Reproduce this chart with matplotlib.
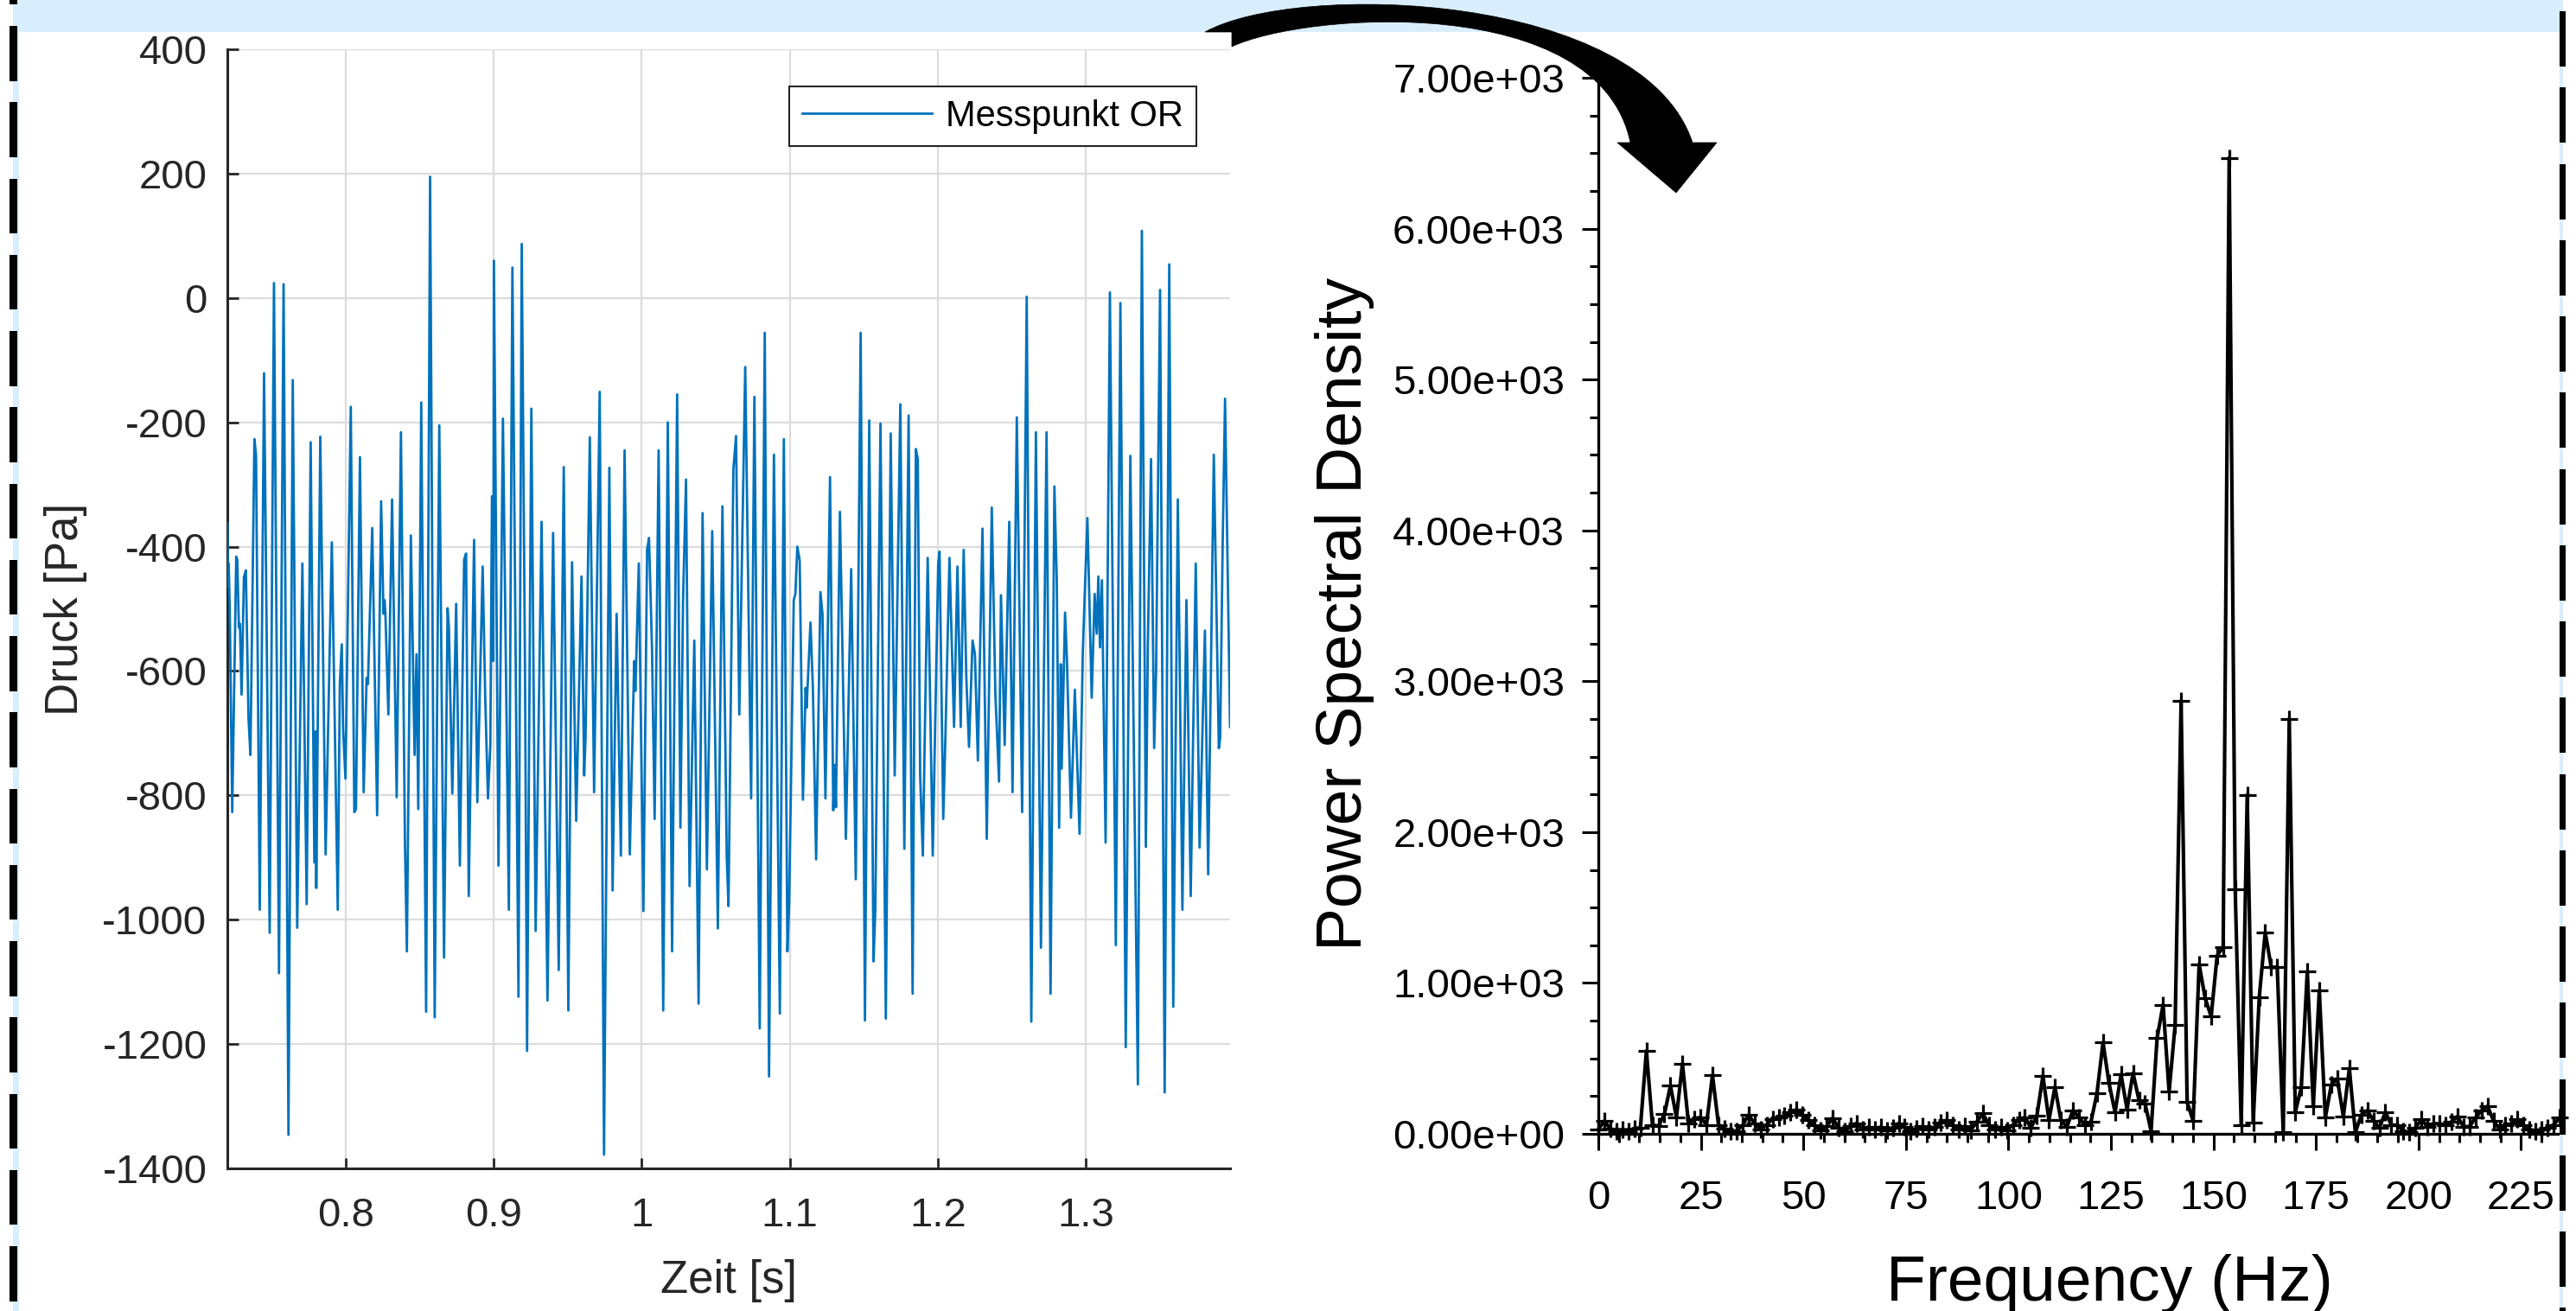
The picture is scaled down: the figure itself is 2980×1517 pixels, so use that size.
import numpy as np
import matplotlib
matplotlib.use('Agg')
import matplotlib.pyplot as plt
from matplotlib.patches import Rectangle, PathPatch
from matplotlib.path import Path
from matplotlib.ticker import MultipleLocator, FuncFormatter

plt.rcParams['font.family'] = ['Liberation Sans', 'DejaVu Sans']
plt.rcParams['axes.unicode_minus'] = False

W, H = 2980, 1517
DPI = 100

# Druckverlauf Messpunkt OR  (Zeit [s], Druck [Pa])
zeit = [0.7200, 0.7204, 0.7209, 0.7216, 0.7233, 0.7260, 0.7267, 0.7278, 0.7285, 0.7296,
        0.7312, 0.7325, 0.7343, 0.7356, 0.7383, 0.7394, 0.7419, 0.7448, 0.7486, 0.7515,
        0.7549, 0.7580, 0.7613, 0.7642, 0.7672, 0.7707, 0.7736, 0.7763, 0.7788, 0.7797,
        0.7801, 0.7828, 0.7864, 0.7906, 0.7946, 0.7960, 0.7973, 0.7982, 0.7998, 0.8034,
        0.8058, 0.8069, 0.8096, 0.8121, 0.8141, 0.8150, 0.8179, 0.8212, 0.8239, 0.8255,
        0.8262, 0.8268, 0.8288, 0.8313, 0.8344, 0.8373, 0.8400, 0.8413, 0.8440, 0.8465,
        0.8478, 0.8490, 0.8510, 0.8543, 0.8570, 0.8601, 0.8632, 0.8664, 0.8688, 0.8697,
        0.8720, 0.8746, 0.8771, 0.8800, 0.8813, 0.8831, 0.8867, 0.8889, 0.8925, 0.8943,
        0.8961, 0.8977, 0.8988, 0.8997, 0.9001, 0.9032, 0.9062, 0.9102, 0.9126, 0.9151,
        0.9167, 0.9189, 0.9211, 0.9225, 0.9254, 0.9283, 0.9323, 0.9363, 0.9401, 0.9439,
        0.9473, 0.9504, 0.9529, 0.9557, 0.9593, 0.9611, 0.9620, 0.9649, 0.9678, 0.9716,
        0.9745, 0.9781, 0.9803, 0.9830, 0.9859, 0.9884, 0.9919, 0.9949, 0.9957, 0.9980,
        1.0011, 1.0036, 1.0049, 1.0069, 1.0087, 1.0114, 1.0145, 1.0176, 1.0205, 1.0239,
        1.0261, 1.0279, 1.0299, 1.0323, 1.0355, 1.0384, 1.0411, 1.0440, 1.0476, 1.0514,
        1.0545, 1.0574, 1.0586, 1.0619, 1.0637, 1.0659, 1.0699, 1.0739, 1.0761, 1.0797,
        1.0831, 1.0860, 1.0893, 1.0933, 1.0960, 1.0984, 1.0996, 1.1027, 1.1038, 1.1051,
        1.1067, 1.1089, 1.1107, 1.1114, 1.1120, 1.1140, 1.1156, 1.1178, 1.1207, 1.1221,
        1.1241, 1.1272, 1.1294, 1.1303, 1.1312, 1.1339, 1.1379, 1.1415, 1.1446, 1.1479,
        1.1508, 1.1537, 1.1566, 1.1578, 1.1613, 1.1649, 1.1682, 1.1709, 1.1747, 1.1774,
        1.1803, 1.1830, 1.1852, 1.1865, 1.1881, 1.1899, 1.1932, 1.1966, 1.2003, 1.2012,
        1.2037, 1.2052, 1.2079, 1.2110, 1.2133, 1.2155, 1.2175, 1.2193, 1.2211, 1.2235,
        1.2251, 1.2271, 1.2302, 1.2331, 1.2365, 1.2389, 1.2414, 1.2427, 1.2452, 1.2483,
        1.2505, 1.2534, 1.2570, 1.2601, 1.2632, 1.2663, 1.2697, 1.2735, 1.2762, 1.2788,
        1.2804, 1.2820, 1.2831, 1.2837, 1.2860, 1.2873, 1.2900, 1.2926, 1.2958, 1.2980,
        1.2993, 1.3011, 1.3040, 1.3060, 1.3074, 1.3085, 1.3096, 1.3109, 1.3134, 1.3163,
        1.3203, 1.3234, 1.3270, 1.3301, 1.3352, 1.3379, 1.3406, 1.3419, 1.3441, 1.3462,
        1.3475, 1.3502, 1.3533, 1.3564, 1.3591, 1.3622, 1.3653, 1.3680, 1.3709, 1.3743,
        1.3769, 1.3805, 1.3827, 1.3865, 1.3899, 1.3908, 1.3925, 1.3941, 1.3975]
druck = [-362, -465, -427, -497, -827, -416, -421, -530, -524, -638,
         -449, -438, -676, -735, -227, -254, -984, -121, -1021, 24,
         -1086, 22, -1346, -132, -1013, -427, -975, -232, -908, -697,
         -949, -223, -895, -393, -984, -621, -557, -692, -773, -175,
         -827, -822, -256, -795, -611, -621, -370, -832, -327, -508,
         -486, -508, -670, -324, -803, -216, -876, -1051, -382, -735,
         -573, -822, -168, -1148, 195, -1157, -205, -1061, -499, -530,
         -797, -492, -913, -421, -411, -962, -389, -811, -432, -649,
         -805, -719, -319, -584, 60, -913, -194, -984, 49, -670,
         -1124, 87, -594, -1211, -178, -1018, -360, -1130, -378, -1081,
         -272, -1146, -425, -841, -448, -768, -708, -224, -795, -151,
         -1378, -273, -953, -508, -897, -245, -895, -584, -632, -427,
         -986, -405, -386, -562, -838, -245, -1146, -200, -1051, -155,
         -852, -486, -292, -946, -551, -1135, -346, -919, -375, -1014,
         -335, -897, -978, -276, -222, -670, -111, -805, -159, -1175,
         -56, -1252, -252, -1151, -227, -1051, -973, -486, -476, -400,
         -422, -807, -627, -659, -627, -522, -625, -903, -473, -508,
         -805, -288, -824, -751, -819, -344, -870, -436, -935, -56,
         -1162, -197, -1067, -984, -202, -1159, -218, -768, -171, -886,
         -189, -1119, -243, -259, -768, -897, -418, -897, -427, -408,
         -838, -703, -418, -690, -432, -690, -405, -611, -722, -551,
         -573, -744, -371, -870, -337, -636, -778, -478, -719, -360,
         -795, -192, -827, 2, -1164, -216, -1045, -216, -1119, -303,
         -454, -852, -589, -757, -506, -584, -836, -630, -862, -569,
         -476, -354, -643, -476, -540, -448, -562, -454, -876, 9,
         -1041, -8, -1205, -254, -1265, 108, -883, -562, -259, -724,
         -600, 13, -1278, 54, -1140, -324, -984, -486, -962, -427,
         -884, -535, -927, -252, -724, -708, -394, -162, -690]

# Power Spectral Density, one value per frequency bin (df = 1.465 Hz, from 0 Hz)
df = 1.465
psd = [30, 85, 35, 15, 30, 20, 35, 40, 550, 60,
       50, 130, 320, 110, 465, 70, 100, 110, 60, 390,
       60, 35, 15, 20, 55, 125, 70, 30, 60, 100,
       110, 120, 145, 160, 125, 90, 55, 25, 50, 105,
       40, 20, 50, 70, 30, 45, 30, 45, 25, 40,
       70, 45, 20, 35, 50, 30, 45, 75, 90, 60,
       30, 50, 25, 80, 135, 60, 30, 45, 25, 60,
       90, 110, 40, 120, 385, 90, 310, 90, 48, 154,
       110, 56, 80, 269, 605, 336, 143, 393, 163, 403,
       221, 202, 19, 634, 855, 278, 720, 2870, 212, 86,
       1124, 900, 778, 1182, 1239, 6470, 1623, 58, 2248, 77,
       903, 1335, 1104, 1104, 10, 2750, 144, 307, 1076, 183,
       951, 106, 326, 365, 115, 433, 10, 126, 155, 87,
       39, 144, 58, 58, 19, 10, 40, 96, 48, 67,
       67, 58, 80, 115, 48, 48, 106, 155, 183, 87,
       29, 58, 67, 96, 58, 29, 19, 29, 39, 60,
       106]
freq = np.arange(len(psd)) * df

zeit_ticks = [0.8, 0.9, 1.0, 1.1, 1.2, 1.3]
zeit_labels = ['0.8', '0.9', '1', '1.1', '1.2', '1.3']

BAND = '#d9eefc'
MBLUE = '#0072BD'
DARK = '#262626'


def px_box(x0, y0, x1, y1):
    # pixel box (y from top) -> figure fraction
    return [x0 / W, 1 - y1 / H, (x1 - x0) / W, (y1 - y0) / H]


fig = plt.figure(figsize=(W / DPI, H / DPI), dpi=DPI)
fig.patch.set_facecolor('white')

# ---- left: MATLAB style time signal
ax1 = fig.add_axes(px_box(263, 57, 1423, 1352))
ax1.plot(zeit, druck, color=MBLUE, lw=2.0, label='Messpunkt OR', zorder=3)
ax1.set_xlim(0.72, 1.3975)
ax1.set_ylim(-1400, 400)
ax1.set_yticks(np.arange(-1400, 401, 200))
ax1.set_xticks(zeit_ticks)
ax1.set_xticklabels(zeit_labels)
ax1.grid(True, color='#dcdcdc', lw=1.6)
ax1.set_axisbelow(True)
for s in ['top', 'right']:
    ax1.spines[s].set_visible(False)
for s in ['left', 'bottom']:
    ax1.spines[s].set_color(DARK)
    ax1.spines[s].set_linewidth(2.2)
ax1.tick_params(direction='in', length=9, width=2, color=DARK,
                labelcolor=DARK, labelsize=34)
ax1.tick_params(axis='y', pad=17)
ax1.tick_params(axis='x', pad=24)
ax1.set_xlabel('Zeit [s]', fontsize=38, color=DARK, va='center')
ax1.set_ylabel('Druck [Pa]', fontsize=38, color=DARK, va='center')
ax1.xaxis.set_label_coords(0.5, -0.1004)
ax1.yaxis.set_label_coords(-0.161, 0.5)
leg = ax1.legend(loc='upper right', bbox_to_anchor=(0.9664, 0.9668), borderaxespad=0,
                 fontsize=30, handlelength=3.6, handletextpad=0.4, borderpad=0.35,
                 fancybox=False, framealpha=1, edgecolor=DARK)
leg.get_frame().set_linewidth(1.5)
for txt in leg.get_texts():
    txt.set_color('black')

# ---- right: PSD
ax2 = fig.add_axes(px_box(1849, 90, 2962, 1312))
ax2.plot(freq, psd, color='black', lw=3.0, marker='+', ms=14, mew=2.3,
         clip_on=False, zorder=3)
ax2.set_xlim(0, 234.6)
ax2.set_ylim(0, 7000)
ax2.xaxis.set_major_locator(MultipleLocator(25))
ax2.xaxis.set_minor_locator(MultipleLocator(5))
ax2.yaxis.set_major_locator(MultipleLocator(1000))
ax2.yaxis.set_minor_locator(MultipleLocator(250))
ax2.yaxis.set_major_formatter(FuncFormatter(lambda v, p: f'{v:.2e}'))
for s in ['top', 'right']:
    ax2.spines[s].set_visible(False)
for s in ['left', 'bottom']:
    ax2.spines[s].set_color('black')
    ax2.spines[s].set_linewidth(2.4)
ax2.tick_params(which='major', direction='out', length=14, width=2.2, labelsize=34)
ax2.tick_params(which='minor', direction='out', length=7, width=2.2)
ax2.tick_params(axis='y', which='major', pad=14)
ax2.tick_params(axis='x', which='major', pad=24)
ax2.set_xlabel('Frequency (Hz)', fontsize=54, va='center')
ax2.set_ylabel('Power Spectral Density', fontsize=54, va='center')
ax2.xaxis.set_label_coords(0.531, -0.1416)
ax2.yaxis.set_label_coords(-0.264, 0.4926)

# ---- decoration: band, dashed frame, curved arrow
deco = fig.add_axes([0, 0, 1, 1], zorder=10)
deco.set_xlim(0, W)
deco.set_ylim(H, 0)
deco.axis('off')

deco.add_patch(Rectangle((15, 0), 2950, 37, color=BAND, lw=0))
deco.add_patch(Rectangle((15, 0), 6.5, H, color=BAND, lw=0))
deco.add_patch(Rectangle((2961, 0), 4, H, color=BAND, lw=0))
for y0 in np.arange(-58.25, H, 88.25):
    deco.add_patch(Rectangle((11, y0), 9.2, 63.5, color='black', lw=0))
for y0 in np.arange(13, H, 88.25):
    deco.add_patch(Rectangle((2961, y0), 7.3, 64, color='black', lw=0))

verts = [(1394, 37), (1500, -22), (1900, -10), (1958, 165),
         (1986, 165), (1939, 223), (1871, 165), (1886, 165),
         (1850, -10), (1510, 14), (1425, 54),
         (1425, 37), (1394, 37)]
codes = [Path.MOVETO, Path.CURVE4, Path.CURVE4, Path.CURVE4,
         Path.LINETO, Path.LINETO, Path.LINETO, Path.LINETO,
         Path.CURVE4, Path.CURVE4, Path.CURVE4,
         Path.LINETO, Path.CLOSEPOLY]
deco.add_patch(PathPatch(Path(verts, codes), facecolor='black', edgecolor='black', lw=0.5))

fig.savefig('out.png', dpi=DPI, facecolor='white')
